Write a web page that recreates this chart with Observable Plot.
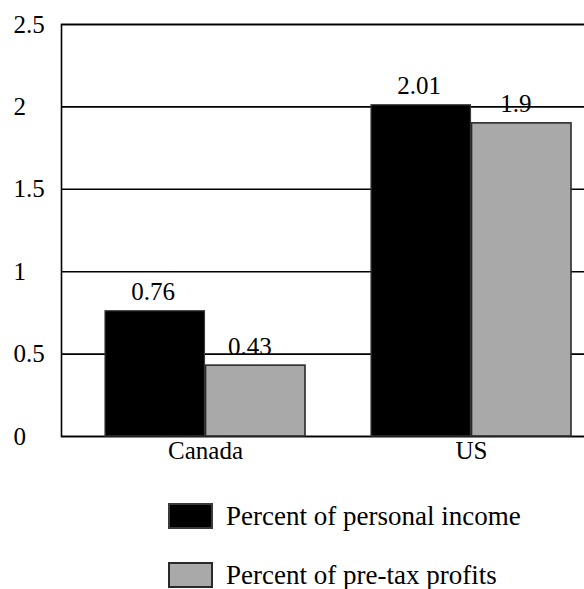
<!DOCTYPE html>
<html>
<head>
<meta charset="utf-8">
<script src="https://cdn.jsdelivr.net/npm/d3@7"></script>
<script src="https://cdn.jsdelivr.net/npm/@observablehq/plot@0.6"></script>
<style>
  html, body { margin: 0; padding: 0; background: #fff; overflow: hidden; width: 584px; height: 589px; }
  #chart svg { display: block; }
  .legend { font-family: "Liberation Serif", "DejaVu Serif", serif; font-size: 27px; line-height: 1; color: #000; padding-left: 168px; }
  .legend .row { display: flex; align-items: center; height: 26px; }
  .legend .sw { width: 45px; height: 26px; margin-right: 13px; box-sizing: border-box; flex: none; }
  .legend span { line-height: 1; }
</style>
</head>
<body>
<div id="chart"></div>
<script>
const countries = ["Canada", "US"];
const personalIncome = [0.76, 2.01];
const pretaxProfits = [0.43, 1.9];
const seriesNames = ["Percent of personal income", "Percent of pre-tax profits"];
const seriesFills = ["#000000", "#a9a9a9"];
const seriesStrokes = ["#3a3a3a", "#2a2a2a"];
const yTicks = [0, 0.5, 1, 1.5, 2, 2.5];
const yTickLabels = ["0", "0.5", "1", "1.5", "2", "2.5"];

const incomeRows = countries.map((c, i) => ({country: c, value: personalIncome[i]}));
const profitRows = countries.map((c, i) => ({country: c, value: pretaxProfits[i]}));

const W = 615, H = 470, mL = 61, mR = 0, mT = 24, mB = 34;
const pIn = 0.247, pOut = 0.161;
const step = (W - mL - mR) / (countries.length - pIn + 2 * pOut);
const bw = step * (1 - pIn);
const font = "'Liberation Serif', 'DejaVu Serif', serif";

const chart = Plot.plot({
  width: W, height: H,
  marginLeft: mL, marginRight: mR, marginTop: mT, marginBottom: mB,
  style: {fontFamily: font, fontSize: "25px", color: "#000", background: "#fff", maxWidth: "none", overflow: "hidden"},
  x: {domain: countries, paddingInner: pIn, paddingOuter: pOut, label: null},
  y: {domain: [0, 2.5], label: null},
  marks: [
    Plot.ruleY(yTicks, {stroke: "#000", strokeWidth: 1.6}),
    Plot.frame({stroke: "#000", strokeWidth: 1.6}),
    Plot.barY(incomeRows, {x: "country", y: "value", fill: seriesFills[0], stroke: seriesStrokes[0], strokeWidth: 1.2, insetRight: bw / 2}),
    Plot.barY(profitRows, {x: "country", y: "value", fill: seriesFills[1], stroke: seriesStrokes[1], strokeWidth: 1.6, insetLeft: bw / 2}),
    Plot.text(incomeRows, {x: "country", y: "value", text: d => String(d.value), dx: -bw / 4 - 2, dy: -11, lineAnchor: "bottom", fontSize: 25, fontFamily: font}),
    Plot.text(profitRows, {x: "country", y: "value", text: d => String(d.value), dx: bw / 4 - 6, dy: -11, lineAnchor: "bottom", fontSize: 25, fontFamily: font}),
    Plot.axisY({ticks: yTicks, tickFormat: (d) => yTickLabels[yTicks.indexOf(d)], tickSize: 0, tickPadding: 48, textAnchor: "start", fontSize: 25, fontFamily: font, label: null}),
    Plot.axisX({tickSize: 0, tickPadding: 5, fontSize: 25, fontFamily: font, label: null})
  ]
});
document.getElementById("chart").appendChild(chart);

const legend = document.createElement("div");
legend.className = "legend";
legend.style.marginTop = "33px";
seriesNames.forEach((name, i) => {
  const row = document.createElement("div");
  row.className = "row";
  if (i > 0) row.style.marginTop = "33px";
  const sw = document.createElement("div");
  sw.className = "sw";
  sw.style.background = seriesFills[i];
  sw.style.border = `2px solid ${seriesStrokes[i]}`;
  const label = document.createElement("span");
  label.textContent = name;
  row.appendChild(sw);
  row.appendChild(label);
  legend.appendChild(row);
});
document.body.appendChild(legend);
</script>
</body>
</html>
